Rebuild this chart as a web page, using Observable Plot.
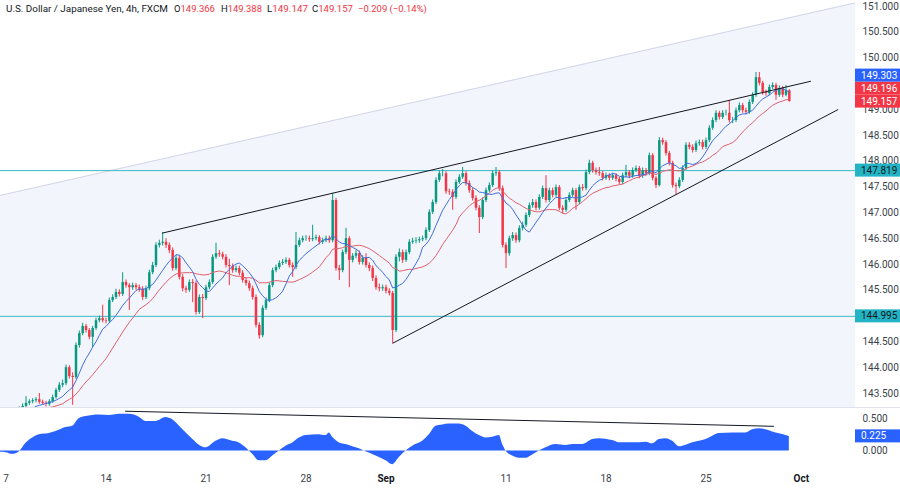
<!DOCTYPE html>
<html><head><meta charset="utf-8">
<script src="https://cdn.jsdelivr.net/npm/d3@7"></script>
<script src="https://cdn.jsdelivr.net/npm/@observablehq/plot@0.6"></script>
<style>
body{margin:0;background:#fff;width:900px;height:489px;overflow:hidden;position:relative;font-family:Roboto,"Liberation Sans",sans-serif;}
#title{position:absolute;left:0;top:2px;width:900px;height:16px;font-size:11px;color:#131722;white-space:nowrap;font-family:Roboto,sans-serif;}
#title .seg{position:absolute;top:0;white-space:nowrap}
#title .v{color:#f23645}
svg{display:block}
</style></head><body>
<div id="main"></div>
<div id="osc"></div>
<div id="title"></div>
<script>
// ---- data: 4h USD/JPY candles (bar index 0 = first 4h bar of Aug 7) ----
const firstIndex = -2;
const firstOpen = 143.00;
const closes = [
143.02,143.09,143.05,143.13,143.17,143.11,143.19,143.25,143.31,143.34,
143.36,143.38,143.33,143.31,143.29,143.34,143.42,143.56,143.66,143.69,
144.00,143.83,143.81,144.43,144.66,144.80,144.72,144.59,144.76,144.91,
144.95,144.91,144.90,145.30,145.36,145.46,145.42,145.65,145.59,145.55,
145.59,145.55,145.52,145.36,145.53,145.84,145.98,146.37,146.41,146.43,
146.37,146.27,145.92,146.12,145.75,145.53,145.50,145.65,145.63,145.07,
145.36,145.34,145.55,145.65,146.14,146.21,146.19,146.14,145.98,145.96,
145.88,145.92,145.83,145.69,145.63,145.53,145.36,144.82,144.62,145.15,
145.30,145.59,145.88,145.94,146.02,146.04,146.08,145.98,145.94,146.37,
146.46,146.50,146.50,146.48,146.50,146.52,146.43,146.46,146.50,146.46,
147.24,145.92,145.88,146.23,146.50,146.08,146.16,146.21,146.04,146.12,
145.98,145.92,145.73,145.55,145.53,145.55,145.48,145.44,144.72,146.14,
146.23,146.08,146.23,146.43,146.45,146.46,146.48,146.50,146.66,147.01,
147.20,147.63,147.76,147.76,147.41,147.40,147.30,147.59,147.69,147.76,
147.57,147.43,147.28,147.09,146.91,147.24,147.43,147.53,147.76,147.78,
147.47,146.37,146.21,146.50,146.56,146.46,146.70,146.76,146.95,147.14,
147.20,147.09,147.30,147.47,147.24,147.43,147.34,147.49,147.09,147.05,
147.24,147.34,147.43,147.20,147.49,147.47,147.78,147.96,147.82,147.78,
147.76,147.67,147.72,147.67,147.72,147.65,147.59,147.72,147.78,147.71,
147.82,147.86,147.71,147.82,147.76,148.11,147.67,147.53,148.40,148.36,
148.15,147.96,147.53,147.51,147.63,147.86,148.31,148.27,148.21,148.34,
148.36,148.27,148.40,148.64,148.79,148.93,148.85,148.93,148.93,148.79,
148.79,148.98,149.08,148.98,148.95,149.14,149.28,149.62,149.51,149.33,
149.31,149.43,149.47,149.28,149.41,149.28,149.366,149.157];
const highs = [
143.10,143.14,143.13,143.18,143.22,143.21,143.24,143.30,143.44,143.38,
143.40,143.42,143.50,143.37,143.35,143.38,143.47,143.60,143.71,143.76,
144.05,144.04,143.90,144.48,144.71,144.86,144.84,144.76,144.80,144.96,
145.00,145.21,144.96,145.35,145.41,145.52,145.51,145.84,145.70,145.63,
145.64,145.63,145.60,145.57,145.58,145.89,146.04,146.42,146.47,146.62,
146.50,146.42,146.32,146.18,146.17,145.80,145.58,145.70,145.71,145.68,
145.41,145.42,145.60,145.70,146.19,146.41,146.27,146.24,146.19,146.10,
146.01,145.97,145.97,145.88,145.74,145.68,145.58,145.41,144.87,145.20,
145.35,145.64,145.93,145.99,146.07,146.10,146.13,146.12,146.03,146.62,
146.51,146.55,146.56,146.55,146.76,146.57,146.56,146.51,146.55,146.55,
147.38,147.28,145.98,146.28,146.70,146.54,146.21,146.27,146.26,146.17,
146.21,146.03,145.97,145.78,145.62,145.60,145.60,145.53,145.48,146.19,
146.30,146.28,146.28,146.48,146.51,146.52,146.53,146.55,146.71,147.06,
147.25,147.68,147.81,147.84,147.80,147.46,147.45,147.64,147.74,147.88,
147.80,147.62,147.48,147.33,147.14,147.29,147.48,147.58,147.81,147.88,
147.82,147.52,146.42,146.55,146.62,146.61,146.75,146.82,147.00,147.19,
147.26,147.25,147.35,147.52,147.72,147.48,147.48,147.54,147.53,147.14,
147.29,147.39,147.48,147.47,147.54,147.55,147.83,148.02,148.00,147.87,
147.88,147.80,147.77,147.76,147.77,147.76,147.69,147.77,147.92,147.82,
147.87,147.91,147.90,147.87,147.86,148.16,148.15,147.71,148.46,148.45,
148.40,148.19,148.00,147.58,147.68,147.91,148.36,148.36,148.32,148.39,
148.41,148.41,148.45,148.69,148.84,148.98,148.97,148.98,148.99,149.18,
148.85,149.03,149.13,149.12,149.03,149.19,149.33,149.72,149.72,149.55,
149.38,149.48,149.52,149.51,149.46,149.45,149.47,149.388];
const lows = [
142.95,142.98,143.00,143.01,143.09,143.06,143.08,143.15,143.21,143.27,
143.30,143.32,143.29,143.27,143.24,143.25,143.31,143.39,143.52,143.61,
143.65,143.78,143.27,143.77,144.38,144.62,144.67,144.54,144.39,144.72,
144.87,144.87,144.85,144.86,145.26,145.32,145.37,145.38,145.54,145.11,
145.50,145.50,145.46,145.30,145.32,145.49,145.80,145.94,146.32,146.36,
146.31,146.21,145.87,145.88,145.70,145.47,145.44,145.46,145.26,145.02,
145.03,144.95,145.30,145.51,145.61,146.10,146.14,146.09,145.93,145.59,
145.83,145.84,145.78,145.64,145.58,145.48,145.31,144.77,144.55,144.58,
145.11,145.26,145.55,145.84,145.90,145.98,146.00,145.93,145.75,145.90,
146.33,146.42,146.45,146.43,146.44,146.46,146.38,146.39,146.42,146.41,
146.42,145.87,145.69,145.84,146.19,145.55,146.03,146.11,145.99,145.99,
145.93,145.86,145.67,145.50,145.47,145.48,145.43,145.39,144.47,144.68,
146.05,146.02,146.04,146.19,146.39,146.40,146.41,146.44,146.46,146.62,
146.97,147.16,147.59,147.70,147.36,147.34,147.05,147.26,147.55,147.65,
147.52,147.38,147.23,147.04,146.60,146.87,147.20,147.39,147.49,147.71,
147.42,146.32,145.92,146.16,146.45,146.41,146.42,146.65,146.72,146.91,
147.09,147.04,147.05,147.26,147.19,147.20,147.29,147.30,147.04,146.98,
147.01,147.20,147.30,147.05,147.16,147.42,147.43,147.74,147.77,147.73,
147.71,147.62,147.63,147.62,147.63,147.60,147.54,147.55,147.68,147.66,
147.67,147.78,147.66,147.67,147.71,147.72,147.62,147.47,147.50,148.31,
148.10,147.91,147.48,147.34,147.47,147.59,147.82,148.22,148.16,148.17,
148.29,148.22,148.23,148.36,148.60,148.75,148.80,148.81,148.88,148.74,
148.73,148.75,148.94,148.93,148.90,148.91,149.10,149.24,149.46,149.28,
149.26,149.27,149.39,149.18,149.24,149.23,149.25,149.147];

// oscillator (lower pane), read at bar positions
const oscIdx = [-1.65,0,2,4,6,8,10,13,15,18,20,22,24,28,31,34,37,40,42,45,48,50,53,56,58,60,63,65,68,70,72,74,76,78,80,82,84,86,88,90,94,96,97,98,100,102,104,106,108,111,114,116,118,120,122,125,127,129,131,133,136,138,140,142,144,146,148,149,150,152,154,156,158,160,162,165,168,170,173,176,178,182,184,190,192,194,196,198,200,202,204,206,208,210,212,214,218,222,224,226,229,231,233,235];
const oscVal = [-0.02,-0.025,-0.05,-0.01,0.12,0.20,0.25,0.27,0.30,0.36,0.38,0.50,0.53,0.555,0.545,0.565,0.565,0.52,0.455,0.455,0.515,0.48,0.33,0.18,0.09,0.05,0.15,0.19,0.15,0.125,0.05,-0.05,-0.15,-0.15,-0.075,0.0,0.075,0.125,0.20,0.24,0.25,0.237,0.278,0.21,0.125,0.10,0.066,0.035,-0.01,-0.075,-0.15,-0.21,-0.10,0.0,0.075,0.15,0.25,0.38,0.40,0.414,0.414,0.38,0.30,0.237,0.20,0.21,0.237,0.10,0.0,-0.075,-0.11,-0.11,-0.06,0.0,0.05,0.10,0.086,0.10,0.10,0.177,0.19,0.16,0.126,0.126,0.136,0.11,0.177,0.19,0.15,0.066,0.09,0.126,0.15,0.177,0.227,0.268,0.278,0.278,0.328,0.343,0.313,0.278,0.253,0.225];

// drawings (bar index, price)
const channelTopIdx = [-1.65, 254.85];
const channelTopPrice = [147.34, 151.07];
const wedgeUpperIdx = [47.0, 241.35];
const wedgeUpperPrice = [146.61, 149.55];
const wedgeLowerIdx = [116.05, 249.55];
const wedgeLowerPrice = [144.475, 149.0];
const levelPrices = [147.819, 144.995];
const oscTrendIdx = [35.85, 230.25];
const oscTrendVal = [0.612, 0.38];

// axes (145.000 and 149.500 sit under value labels in the reference, so they are not shown)
const priceTicks = [143.5,144,144.5,145.5,146,146.5,147,147.5,148,148.5,149,150,150.5,151];
const oscTicks = [0, 0.5];
const dateTickIdx = [0,30,60,90,114,150,180,210,238.6];
const dateTickLabels = ["7","14","21","28","Sep","11","18","25","Oct"];
const dateTickBold = [false,false,false,false,true,false,false,false,true];
const priceBadgeValues = [149.157, 149.196, 149.303];
const priceBadgeColors = ["#f23645", "#f23645", "#2962ff"];
const oscBadgeValue = 0.225;
const titleText = "U.S. Dollar / Japanese Yen, 4h, FXCM";

// ---- build rows ----
const bars = closes.map((c, k) => ({i: k + firstIndex, o: k ? closes[k-1] : firstOpen, h: highs[k], l: lows[k], c}));
const channelPts = channelTopIdx.map((i, k) => ({i, p: channelTopPrice[k]}));
const upperPts = wedgeUpperIdx.map((i, k) => ({i, p: wedgeUpperPrice[k]}));
const lowerPts = wedgeLowerIdx.map((i, k) => ({i, p: wedgeLowerPrice[k]}));
const oscPts = oscIdx.map((i, k) => ({i, v: oscVal[k]}));
const oscTrendPts = oscTrendIdx.map((i, k) => ({i, v: oscTrendVal[k]}));
const dateTicks = dateTickIdx.map((i, k) => ({i, t: dateTickLabels[k], b: dateTickBold[k]}));

const UP = "#089981", DOWN = "#f23645";
const col = d => d.c >= d.o ? UP : DOWN;
const xDomain = [-1.65, 254.85];
const FONT = "Roboto, 'Liberation Sans', sans-serif";
const AX = "#3b3f4b";

const main = Plot.plot({
  width: 900, height: 408, marginTop: 0, marginBottom: 0, marginLeft: 0, marginRight: 45,
  x: {domain: xDomain, axis: null},
  y: {domain: [143.209, 151.116], axis: null},
  style: {fontFamily: FONT, fontSize: "10px", background: "transparent", overflow: "visible"},
  marks: [
    Plot.areaY(channelPts, {x: "i", y1: 140, y2: "p", fill: "#f3f5fc", clip: true}),
    Plot.line(channelPts, {x: "i", y: "p", stroke: "#d3d6ea", strokeWidth: 1, clip: true}),
    Plot.ruleY(levelPrices, {y: d => d, stroke: "#3bb9c4", strokeWidth: 1, clip: true}),
    Plot.ruleX(bars, {x: "i", y1: "l", y2: "h", stroke: col, strokeWidth: 1, clip: true}),
    Plot.ruleX(bars, {x: "i", y1: "o", y2: "c", stroke: col, strokeWidth: 2.5, clip: true}),
    Plot.lineY(bars, Plot.windowY({k: 20, anchor: "end"}, {x: "i", y: "c", stroke: "#e2606c", strokeWidth: 1, clip: true})),
    Plot.lineY(bars, Plot.windowY({k: 9, anchor: "end"}, {x: "i", y: "c", stroke: "#3f6fe0", strokeWidth: 1, clip: true})),
    Plot.line(upperPts, {x: "i", y: "p", stroke: "#131722", strokeWidth: 1, clip: true}),
    Plot.line(lowerPts, {x: "i", y: "p", stroke: "#131722", strokeWidth: 1, clip: true}),
    Plot.text(priceTicks, {y: d => d, frameAnchor: "right", dx: 7, textAnchor: "start", text: d => d.toFixed(3), fill: AX, fontSize: 10})
  ]
});

const osc = Plot.plot({
  width: 900, height: 81, marginTop: 0, marginBottom: 19, marginLeft: 0, marginRight: 45,
  x: {domain: xDomain, axis: null},
  y: {domain: [-0.30, 0.654], axis: null},
  style: {fontFamily: FONT, fontSize: "10px", background: "transparent", overflow: "visible"},
  marks: [
    Plot.areaY(oscPts, {x: "i", y: "v", fill: "#2962ff", curve: "monotone-x"}),
    Plot.line(oscTrendPts, {x: "i", y: "v", stroke: "#131722", strokeWidth: 1}),
    Plot.text(oscTicks, {y: d => d, frameAnchor: "right", dx: 7, textAnchor: "start", text: d => d.toFixed(3), fill: AX, fontSize: 10}),
    Plot.text(dateTicks.filter(d => !d.b), {x: "i", frameAnchor: "bottom", dy: 11, text: "t", fill: AX, fontSize: 10}),
    Plot.text(dateTicks.filter(d => d.b), {x: "i", frameAnchor: "bottom", dy: 11, text: "t", fill: "#131722", fontSize: 10, fontWeight: "bold"})
  ]
});

document.getElementById("main").appendChild(main);
document.getElementById("osc").appendChild(osc);

function scaleOf(chart, name, domain, range) {
  const s = chart.scale(name);
  if (s && typeof s.apply === "function") return v => s.apply(v);
  return d3.scaleLinear(domain, range);
}
function badge(svg, y, label, bg, fg) {
  const g = d3.select(svg).append("g").attr("text-anchor", "start");
  g.append("rect").attr("x", 855).attr("y", y - 6.5).attr("width", 45).attr("height", 13).attr("fill", bg);
  g.append("text").attr("x", 861).attr("y", y).attr("dy", "0.35em").attr("fill", fg)
    .attr("text-anchor", "start").attr("font-family", FONT).attr("font-size", 10).text(label);
}
const ym = scaleOf(main, "y", [143.209, 151.116], [408, 0]);
levelPrices.forEach(v => badge(main, ym(v), v.toFixed(3), "#22b4c4", "#131722"));
let prev = Infinity;
priceBadgeValues.forEach((v, k) => {
  let y = ym(v);
  if (y > prev - 13) y = prev - 13;
  prev = y;
  badge(main, y, v.toFixed(3), priceBadgeColors[k], "#ffffff");
});
d3.select(main).append("line").attr("x1", 0).attr("x2", 900).attr("y1", 407.5).attr("y2", 407.5).attr("stroke", "#e0e3eb");
const yo = scaleOf(osc, "y", [-0.30, 0.654], [62, 0]);
badge(osc, yo(oscBadgeValue), oscBadgeValue.toFixed(3), "#2962ff", "#ffffff");

// title / legend line (segments placed where the reference prints them, fitted to its widths)
const last = bars[bars.length - 1];
const chg = last.c - last.o;
const pct = chg / last.o * 100;
const fmt = v => v.toFixed(3);
const sg = v => (v < 0 ? "\u2212" : "+");
const segs = [
  {x: 6, w: 162, k: titleText, v: ""},
  {x: 174, w: 41, k: "O", v: fmt(last.o)},
  {x: 221, w: 41, k: "H", v: fmt(last.h)},
  {x: 267, w: 41, k: "L", v: fmt(last.l)},
  {x: 312, w: 41, k: "C", v: fmt(last.c)},
  {x: 358, w: 69, k: "", v: sg(chg) + Math.abs(chg).toFixed(3) + " (" + sg(pct) + Math.abs(pct).toFixed(2) + "%)"}
];
const title = document.getElementById("title");
segs.forEach(s => {
  const el = document.createElement("span");
  el.className = "seg";
  el.style.left = s.x + "px";
  el.textContent = s.k;
  if (s.v) { const v = document.createElement("span"); v.className = "v"; v.textContent = s.v; el.appendChild(v); }
  title.appendChild(el);
  const w = el.getBoundingClientRect().width;
  if (w > 0) {
    const fs = Math.min(12, 11 * s.w / w);
    el.style.fontSize = fs + "px";
    el.style.top = ((11 - fs) * 0.6) + "px";
  }
});
</script>
</body></html>
